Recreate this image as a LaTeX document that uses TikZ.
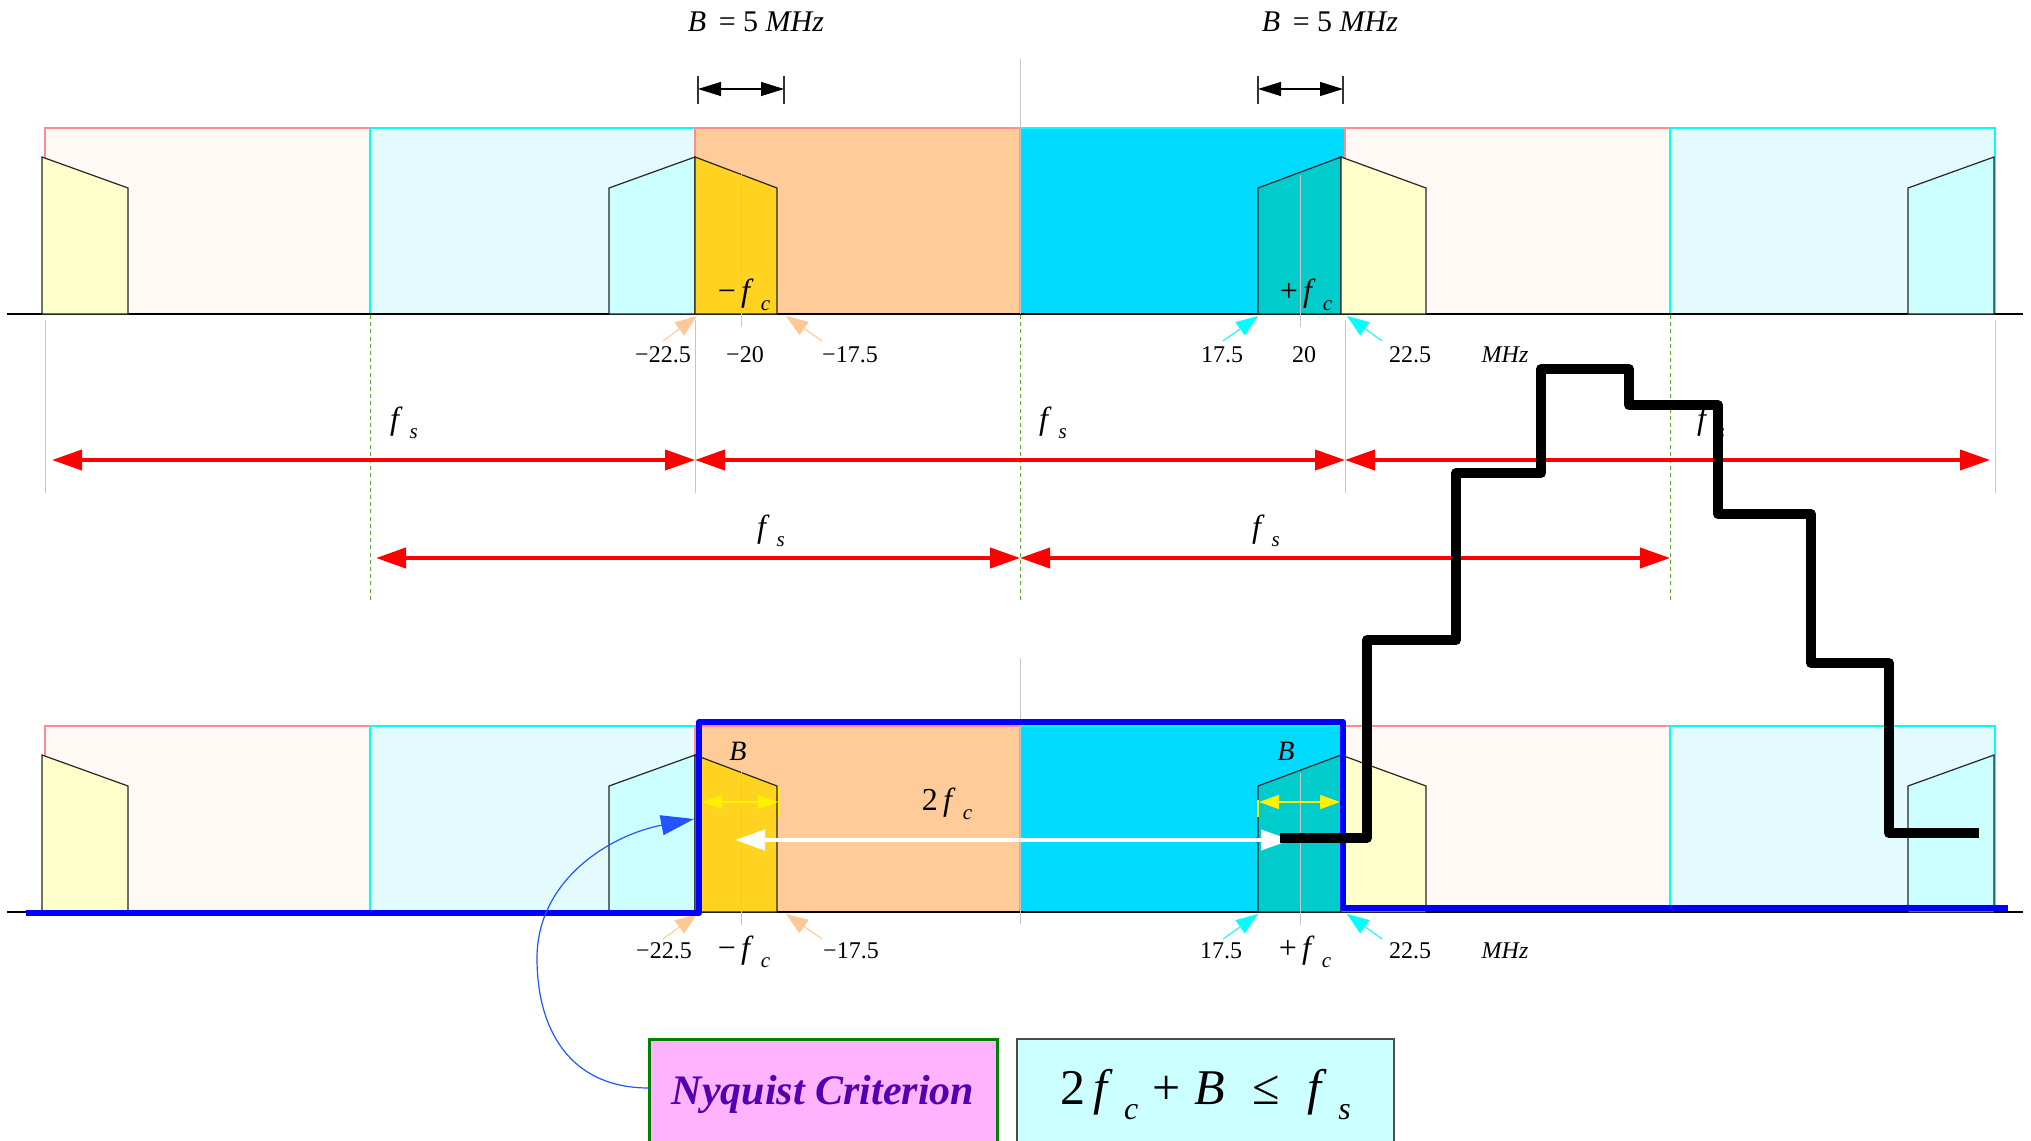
\documentclass[tikz,border=0pt]{standalone}
\usepackage{fontspec}
\setmainfont{Liberation Serif}
\usetikzlibrary{arrows.meta}
\definecolor{pinkfill}{HTML}{FFF9F5}
\definecolor{pinkline}{HTML}{FF8C8C}
\definecolor{cyanfill}{HTML}{E3FAFF}
\definecolor{cyanline}{HTML}{00FFFF}
\definecolor{orangefill}{HTML}{FFCC99}
\definecolor{brightcyan}{HTML}{00DAFF}
\definecolor{lyellow}{HTML}{FFFFCC}
\definecolor{lcyan}{HTML}{CCFFFF}
\definecolor{bandgold}{HTML}{FFD320}
\definecolor{bandteal}{HTML}{00CCCC}
\definecolor{peach}{HTML}{FFC896}
\definecolor{nyqfill}{HTML}{FFB3FF}
\definecolor{nyqtext}{HTML}{5000B0}
\definecolor{nyqline}{HTML}{008000}
\definecolor{dashgreen}{HTML}{66AA33}
\definecolor{curveblue}{HTML}{2255FF}
\newcommand\fq[2]{\textit{f}\hspace{0.22em}\raisebox{-0.3em}{\fontsize{#2}{#2}\selectfont\textit{#1}}}
\begin{document}
\begin{tikzpicture}[x=0.5pt,y=-0.5pt,
  band/.style={line width=0.6pt},
  spec/.style={draw=black!85, line width=0.6pt},
  grayline/.style={draw=gray!45, line width=0.5pt},
  greendash/.style={draw=dashgreen, line width=0.5pt, dash pattern=on 2pt off 1.6pt},
  peacharr/.style={draw=peach, line width=0.5pt, -{Triangle[length=11pt,width=8pt]}},
  cyanarr/.style={draw=cyanline, line width=0.5pt, -{Triangle[length=11pt,width=8pt]}},
  redarr/.style={draw=red, line width=2pt, {Triangle[length=15pt,width=10pt]}-{Triangle[length=15pt,width=10pt]}},
  dimarr/.style={draw=black, line width=0.6pt, {Triangle[length=11.5pt,width=7pt]}-{Triangle[length=11.5pt,width=7pt]}},
  yelarr/.style={draw=yellow, line width=0.8pt, {Triangle[length=10pt,width=7pt]}-{Triangle[length=10pt,width=7pt]}},
  whitearr/.style={draw=white, line width=2pt, {Triangle[length=15pt,width=10pt]}-{Triangle[length=15pt,width=10pt]}},
  num/.style={font=\fontsize{12}{14}\selectfont, anchor=base, inner sep=0pt},
  fcl/.style={font=\fontsize{16}{18}\selectfont, anchor=base, inner sep=0pt},
  blab/.style={font=\fontsize{15}{18}\selectfont, anchor=base, inner sep=0pt}
]
\useasboundingbox (0,0) rectangle (2031,1141);
\fill[white] (0,0) rectangle (2031,1141);

% ---------- two spectrum panels ----------
\foreach \dy in {0,598}{
\begin{scope}[shift={(0,\dy)}]
  \filldraw[band, fill=pinkfill, draw=pinkline] (45,128) rectangle (370,314);
  \filldraw[band, fill=cyanfill, draw=cyanline] (370,128) rectangle (695,314);
  \filldraw[band, fill=orangefill, draw=pinkline] (695,128) rectangle (1020,314);
  \filldraw[band, fill=brightcyan, draw=cyanline] (1020,128) rectangle (1345,314);
  \filldraw[band, fill=pinkfill, draw=pinkline] (1345,128) rectangle (1670,314);
  \filldraw[band, fill=cyanfill, draw=cyanline] (1670,128) rectangle (1995,314);
  \draw[line width=0.8pt] (7,314) -- (2023,314);
  \filldraw[spec, fill=lyellow] (42,314) -- (42,157) -- (128,188) -- (128,314) -- cycle;
  \filldraw[spec, fill=lcyan] (609,314) -- (609,188) -- (695,157) -- (695,314) -- cycle;
  \filldraw[spec, fill=bandgold] (695,314) -- (695,157) -- (777,188) -- (777,314) -- cycle;
  \filldraw[spec, fill=bandteal] (1258,314) -- (1258,188) -- (1341,157) -- (1341,314) -- cycle;
  \filldraw[spec, fill=lyellow] (1341,314) -- (1341,157) -- (1426,188) -- (1426,314) -- cycle;
  \filldraw[spec, fill=lcyan] (1908,314) -- (1908,188) -- (1994,157) -- (1994,314) -- cycle;
  \draw[grayline] (741,174) -- (741,327);
  \draw[grayline] (1300,175) -- (1300,327);
  \coordinate (pa1) at (663,341); \coordinate (pb1) at (697,316);
  \coordinate (pa2) at (822,341); \coordinate (pb2) at (786,316);
  \coordinate (ca1) at (1223,341); \coordinate (cb1) at (1258,316);
  \coordinate (ca2) at (1382,341); \coordinate (cb2) at (1347,316);
  \draw[peacharr] (pa1) -- (pb1);
  \draw[peacharr] (pa2) -- (pb2);
  \draw[cyanarr] (ca1) -- (cb1);
  \draw[cyanarr] (ca2) -- (cb2);
\end{scope}
}

% ---------- guide lines ----------
\draw[grayline] (1020,59) -- (1020,314);
\draw[grayline] (1020,658) -- (1020,924);
\foreach \gx in {45,695,1345,1995}{\draw[grayline] (\gx,320) -- (\gx,493);}
\foreach \gx in {370,1020,1670}{\draw[greendash] (\gx,315) -- (\gx,602);}

% ---------- top labels ----------
\node[blab] (bw1) at (756,31) {\textit{B}\, = 5 \textit{MHz}};
\node[blab] (bw2) at (1330,31) {\textit{B}\, = 5 \textit{MHz}};
\draw[black!80, line width=0.6pt] (698,76) -- (698,104);
\draw[black!80, line width=0.6pt] (784,76) -- (784,104);
\draw[black!80, line width=0.6pt] (1258,76) -- (1258,104);
\draw[black!80, line width=0.6pt] (1343,76) -- (1343,104);
\coordinate (d1a) at (698,89); \coordinate (d1b) at (784,89);
\coordinate (d2a) at (1258,89); \coordinate (d2b) at (1343,89);
\draw[dimarr] (d1a) -- (d1b);
\draw[dimarr] (d2a) -- (d2b);

\node[fcl] (fct1) at (744,301) {−\,\fq{c}{10.5}};
\node[fcl] (fct2) at (1306,301) {+\,\fq{c}{10.5}};

\node[num] (n1) at (663,362) {−22.5};
\node[num] (n2) at (745,362) {−20};
\node[num] (n3) at (850,362) {−17.5};
\node[num] (n4) at (1222,362) {17.5};
\node[num] (n5) at (1304,362) {20};
\node[num] (n6) at (1410,362) {22.5};
\node[num] (n7) at (1505,362) {\textit{MHz}};

% ---------- f_s arrows ----------
\coordinate (r1a) at (52,460); \coordinate (r1b) at (695,460);
\coordinate (r1c) at (1345,460); \coordinate (r1d) at (1990,460);
\coordinate (r2a) at (376,558); \coordinate (r2b) at (1020,558); \coordinate (r2c) at (1670,558);
\draw[redarr] (r1a) -- (r1b);
\draw[redarr] (r1b) -- (r1c);
\draw[redarr] (r1c) -- (r1d);
\draw[redarr] (r2a) -- (r2b);
\draw[redarr] (r2b) -- (r2c);
\node[fcl] (fs1) at (404,429) {\fq{s}{10.5}};
\node[fcl] (fs2) at (1053,429) {\fq{s}{10.5}};
\node[fcl] (fs3) at (1711,429) {\fq{s}{10.5}};
\node[fcl] (fs4) at (771,537) {\fq{s}{10.5}};
\node[fcl] (fs5) at (1266,537) {\fq{s}{10.5}};

% ---------- lower panel labels ----------
\node[font=\fontsize{14}{16}\selectfont, anchor=base, inner sep=0pt] (bl1) at (738,760) {\textit{B}};
\node[font=\fontsize{14}{16}\selectfont, anchor=base, inner sep=0pt] (bl2) at (1286,760) {\textit{B}};
\draw[yellow, line width=0.6pt] (779,788) -- (779,817);
\draw[yellow, line width=0.6pt] (1258,800) -- (1258,817);
\coordinate (y1a) at (702,802); \coordinate (y1b) at (778,802);
\coordinate (y2a) at (1259,802); \coordinate (y2b) at (1340,802);
\draw[yelarr] (y1a) -- (y1b);
\draw[yelarr] (y2a) -- (y2b);
\node[fcl] (twofc) at (947,810) {2\,\fq{c}{10.5}};
\coordinate (wa) at (735,840); \coordinate (wb) at (1291,840);
\draw[whitearr] (wa) -- (wb);

\node[num] (m1) at (664,958) {−22.5};
\node[fcl] (m2) at (744,958) {−\,\fq{c}{10.5}};
\node[num] (m3) at (851,958) {−17.5};
\node[num] (m4) at (1221,958) {17.5};
\node[fcl] (m5) at (1305,958) {+\,\fq{c}{10.5}};
\node[num] (m6) at (1410,958) {22.5};
\node[num] (m7) at (1505,958) {\textit{MHz}};

% ---------- blue filter outline ----------
\draw[blue, line width=3pt, line join=round] (26,913) -- (699,913) -- (699,722) -- (1343,722) -- (1343,908) -- (2008,908);

% ---------- boxes ----------
\node[draw=nyqline, line width=1.5pt, fill=nyqfill, inner sep=0pt, outer sep=0pt,
      minimum width=174pt, minimum height=55.5pt,
      font=\fontsize{21}{24}\selectfont\bfseries\itshape, text=nyqtext] (nyq) at (823,1094.5) {Nyquist Criterion};
\node[draw=black!70, line width=0.7pt, fill=lcyan, inner sep=0pt, outer sep=0pt,
      minimum width=188.5pt, minimum height=55.5pt,
      font=\fontsize{25}{28}\selectfont] (form) at (1205.5,1094.5) {2\,\fq{c}{16}\;+\;\textit{B}\;\;≤\;\;\fq{s}{16}};

\coordinate (ctip) at (694,819);
\draw[curveblue, line width=0.6pt, -{Triangle[length=16.5pt,width=10pt]}]
  ([yshift=3.25pt]nyq.west) .. controls (570,1088) and (537,1030) .. (537,958)
  .. controls (537,880) and (610,835) .. (ctip);

% ---------- black step curve ----------
\draw[black, line width=5pt, line join=round]
  (1280,838) -- (1367,838) -- (1367,640) -- (1456,640) -- (1456,473) -- (1541,473)
  -- (1541,369) -- (1629,369) -- (1629,405) -- (1718,405) -- (1718,514) -- (1811,514)
  -- (1811,663) -- (1889,663) -- (1889,833) -- (1979,833);
\end{tikzpicture}
\end{document}
